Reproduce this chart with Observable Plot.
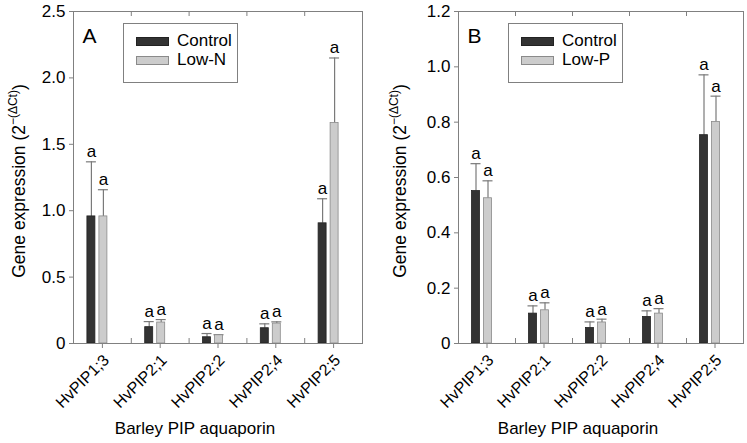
<!DOCTYPE html>
<html><head><meta charset="utf-8">
<script src="https://cdn.jsdelivr.net/npm/d3@7"></script>
<script src="https://cdn.jsdelivr.net/npm/@observablehq/plot@0.6"></script>
<style>
body{margin:0;background:#fff;font-family:"Liberation Sans",Arial,sans-serif;}
#wrap{position:relative;width:747px;height:443px;overflow:hidden;background:#fff}
.panel{position:absolute;top:0}
.legend{position:absolute;border:1px solid #808080;background:#fff;box-sizing:border-box;width:115px;height:60px;font-size:17px;color:#000}
.legend .row{position:absolute;left:12px;display:flex;align-items:center}
.legend .sw{width:33px;height:9px;box-sizing:border-box;margin-right:8px}
</style></head><body><div id="wrap"></div>
<script>
const categories = ["HvPIP1;3", "HvPIP2;1", "HvPIP2;2", "HvPIP2;4", "HvPIP2;5"];
const positions = [1, 2, 3, 4, 5];
const boundaryTicks = [1.5, 2.5, 3.5, 4.5];

// Panel A: Control vs Low-N (mean and upper SE)
const controlA = [0.957, 0.123, 0.047, 0.115, 0.905];
const controlA_se = [0.411, 0.042, 0.028, 0.033, 0.185];
const lowN = [0.957, 0.158, 0.062, 0.150, 1.66];
const lowN_se = [0.201, 0.022, 0.004, 0.013, 0.49];
const lettersA_control = ["a", "a", "a", "a", "a"];
const lettersA_low = ["a", "a", "a", "a", "a"];
const yTicksA = [0, 0.5, 1.0, 1.5, 2.0, 2.5];

// Panel B: Control vs Low-P
const controlB = [0.551, 0.108, 0.056, 0.096, 0.753];
const controlB_se = [0.099, 0.028, 0.022, 0.022, 0.218];
const lowP = [0.525, 0.120, 0.076, 0.108, 0.801];
const lowP_se = [0.063, 0.027, 0.012, 0.018, 0.093];
const lettersB_control = ["a", "a", "a", "a", "a"];
const lettersB_low = ["a", "a", "a", "a", "a"];
const yTicksB = [0, 0.2, 0.4, 0.6, 0.8, 1.0, 1.2];

const FONT = "Liberation Sans, Arial, sans-serif";
const GRAY = "#808080";

function makePanel(o) {
  const H = 443, MT = 11, MB = 100, FH = H - MT - MB;
  const frameW = o.width - o.marginLeft - o.marginRight;
  const half = frameW / 5 / 2;
  const ctrl = positions.map((p, i) => ({p, v: o.control[i], se: o.controlSE[i], lab: o.lettersC[i]}));
  const trt = positions.map((p, i) => ({p, v: o.treat[i], se: o.treatSE[i], lab: o.lettersT[i]}));
  const ticks = positions.map((p, i) => ({p, name: categories[i]}));
  const fmt = d => d === 0 ? "0" : d3.format(".1f")(d);
  const svg = Plot.plot({
    width: o.width, height: H,
    marginLeft: o.marginLeft, marginRight: o.marginRight, marginTop: MT, marginBottom: MB,
    style: {fontFamily: FONT, fontSize: "16px", color: "#000", background: "transparent", overflow: "visible"},
    x: {type: "linear", domain: [0.5, 5.5]},
    y: {domain: [0, o.yMax]},
    marks: [
      // error bars (upper only)
      Plot.ruleX(ctrl, {x: "p", y1: "v", y2: d => d.v + d.se, dx: -11, stroke: "#7a7a7a", strokeWidth: 1.2}),
      Plot.ruleX(trt, {x: "p", y1: "v", y2: d => d.v + d.se, dx: 1, stroke: "#7a7a7a", strokeWidth: 1.2}),
      Plot.ruleY(ctrl, {y: d => d.v + d.se, x1: d => d.p - 0.5, x2: d => d.p + 0.5, insetLeft: half - 16, insetRight: half + 6, stroke: "#7a7a7a", strokeWidth: 1.2}),
      Plot.ruleY(trt, {y: d => d.v + d.se, x1: d => d.p - 0.5, x2: d => d.p + 0.5, insetLeft: half - 4, insetRight: half - 6, stroke: "#7a7a7a", strokeWidth: 1.2}),
      // bars
      Plot.rectY(ctrl, {x1: d => d.p - 0.5, x2: d => d.p + 0.5, y1: 0, y2: "v", insetLeft: half - 15, insetRight: half + 7, fill: "#333333", stroke: "#222222", strokeWidth: 0.8}),
      Plot.rectY(trt, {x1: d => d.p - 0.5, x2: d => d.p + 0.5, y1: 0, y2: "v", insetLeft: half - 3, insetRight: half - 5, fill: "#cccccc", stroke: "#8a8a8a", strokeWidth: 0.8}),
      // significance letters
      Plot.text(ctrl, {x: "p", y: d => d.v + d.se, text: "lab", dx: -11, dy: -10, fontSize: 17}),
      Plot.text(trt, {x: "p", y: d => d.v + d.se, text: "lab", dx: 1, dy: -10, fontSize: 17}),
      // frame and ticks
      Plot.frame({stroke: GRAY}),
      Plot.ruleX(boundaryTicks, {insetBottom: FH - 5, stroke: GRAY}),
      Plot.ruleX(boundaryTicks, {insetTop: FH - 5, stroke: GRAY}),
      Plot.axisY({ticks: o.yTicks, tickFormat: fmt, tickSize: 4, tickPadding: 4, stroke: GRAY, fill: "#000", fontSize: 17, label: null}),
      Plot.axisX({ticks: positions, tickFormat: null, tickSize: 5, stroke: GRAY, text: null, label: null}),
      Plot.text(ticks, {x: "p", text: "name", frameAnchor: "bottom", rotate: -45, textAnchor: "end", lineAnchor: "middle", dx: 4, dy: 14, fontSize: 16}),
      Plot.text([o.letter], {frameAnchor: "top-left", dx: 9, dy: 17, fontSize: 21, textAnchor: "start"}),
      Plot.text(["Barley PIP aquaporin"], {frameAnchor: "bottom", dx: -23, dy: 90, fontSize: 17})
    ]
  });
  const s = d3.select(svg);
  const t = s.append("text")
    .attr("transform", `translate(${o.ylabX},${181}) rotate(-90)`)
    .attr("text-anchor", "middle")
    .attr("font-family", FONT)
    .attr("font-size", 17.5)
    .attr("fill", "#000");
  t.append("tspan").text("Gene expression (2");
  t.append("tspan").attr("dy", -8).attr("font-size", 12).text("\u2212(\u0394Ct)");
  t.append("tspan").attr("dy", 8).text(")");
  const div = document.createElement("div");
  div.className = "panel";
  div.style.left = o.left + "px";
  div.appendChild(svg);
  const leg = document.createElement("div");
  leg.className = "legend";
  leg.style.left = (o.legendLeft - o.left) + "px";
  leg.style.top = "23px";
  leg.innerHTML = `<div class="row" style="top:7px"><div class="sw" style="background:#333;border:1px solid #222"></div><span>Control</span></div>
  <div class="row" style="top:26px"><div class="sw" style="background:#ccc;border:1px solid #8a8a8a"></div><span>${o.treatName}</span></div>`;
  div.appendChild(leg);
  document.getElementById("wrap").appendChild(div);
}

makePanel({left: 0, width: 373, marginLeft: 73, marginRight: 11, yMax: 2.5, yTicks: yTicksA,
  control: controlA, controlSE: controlA_se, treat: lowN, treatSE: lowN_se,
  lettersC: lettersA_control, lettersT: lettersA_low, treatName: "Low-N", letter: "A", ylabX: 25, legendLeft: 123});
makePanel({left: 373, width: 374, marginLeft: 85, marginRight: 4, yMax: 1.2, yTicks: yTicksB,
  control: controlB, controlSE: controlB_se, treat: lowP, treatSE: lowP_se,
  lettersC: lettersB_control, lettersT: lettersB_low, treatName: "Low-P", letter: "B", ylabX: 33, legendLeft: 508});
</script>
</body></html>
